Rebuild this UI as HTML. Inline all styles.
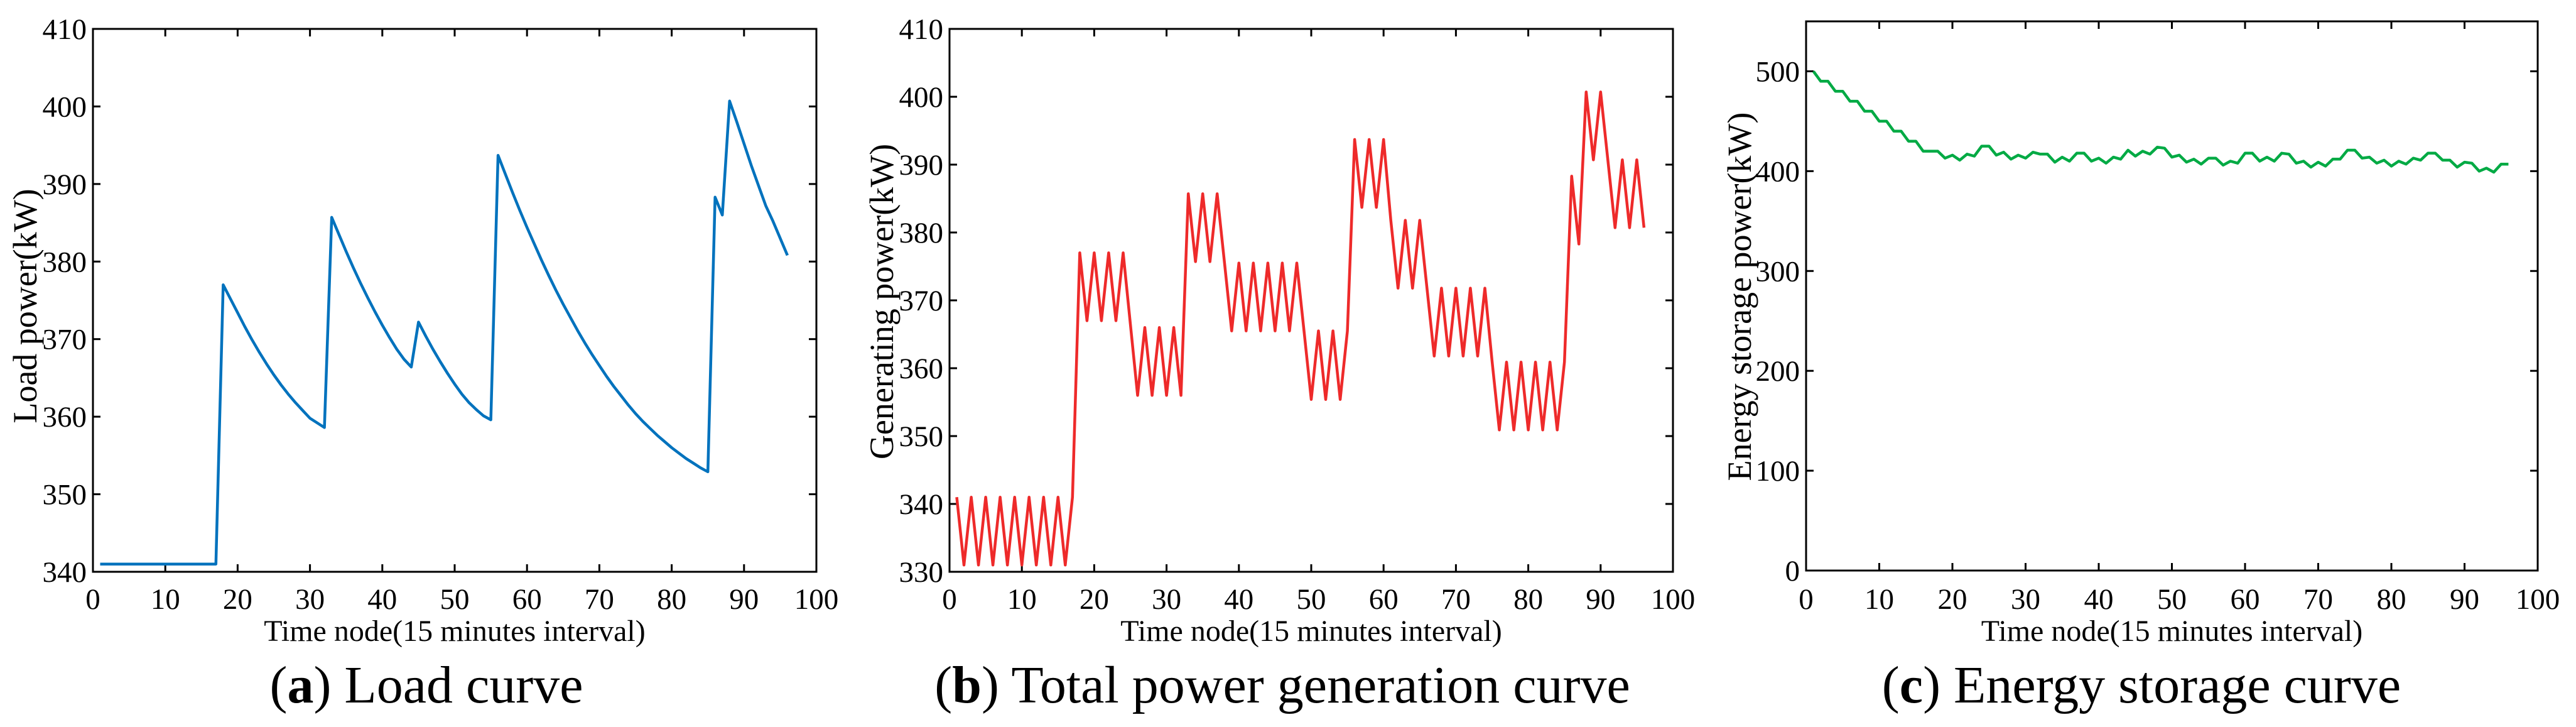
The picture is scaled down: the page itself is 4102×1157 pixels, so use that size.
<!DOCTYPE html>
<html><head><meta charset="utf-8"><style>
html,body{margin:0;padding:0;background:#fff;}
svg{display:block;font-family:"Liberation Serif",serif;}
</style></head><body>
<svg id="fig" width="4102" height="1157" viewBox="0 0 4102 1157"></svg>
<script>
const timeNodes = Array.from({length:96},(_, i)=>i+1);
const xTicks = [0,10,20,30,40,50,60,70,80,90,100];
const loadTicks = [340,350,360,370,380,390,400,410];
const genTicks = [330,340,350,360,370,380,390,400,410];
const storTicks = [0,100,200,300,400,500];
const loadValues = [341,341,341,341,341,341,341,341,341,341,341,341,341,341,341,341,341,
377,375.2,373.4,371.6,369.9,368.3,366.8,365.4,364.1,362.9,361.8,360.8,359.8,359.2,358.6,
385.7,383.5,381.3,379.2,377.2,375.3,373.5,371.8,370.2,368.7,367.4,366.4,
372.2,370.4,368.7,367.1,365.6,364.2,362.9,361.8,360.9,360.1,359.6,
393.7,391.3,388.9,386.6,384.4,382.3,380.2,378.2,376.3,374.5,372.8,371.1,369.5,368,366.6,365.2,363.9,362.7,361.5,360.4,359.4,358.5,357.6,356.8,356,355.3,354.6,354,353.4,352.9,
388.3,386,400.7,398,395.2,392.4,389.8,387.2,385.2,383,380.8];
const genValues = [341,331,341,331,341,331,341,331,341,331,341,331,341,331,341,331,341,
377,367,377,367,377,367,377,366.5,356,366,356,366,356,366,356,
385.7,375.7,385.7,375.7,385.7,375.6,365.5,375.5,365.5,375.5,365.5,375.5,365.5,375.5,365.5,375.5,365.5,
355.4,365.5,355.4,365.5,355.4,365.5,
393.7,383.7,393.7,383.7,393.7,381.8,371.8,381.8,371.8,381.8,371.8,361.8,371.8,361.8,371.8,361.8,371.8,361.8,371.8,
361,350.9,360.9,350.9,360.9,350.9,360.9,350.9,360.9,350.9,360.9,
388.3,378.3,400.7,390.7,400.7,390.7,380.7,390.7,380.7,390.7,380.7];
const storValues = [500,490,490,480,480,470,470,460,460,450,450,440,440,430,430,420,420,420,413,416,411,417,415,425,425,416,419,412,416,413,419,417,417,409,414,410,418,418,410,413,408,414,412,421,415,420,417,424,423,414,416,409,412,407,413,413,406,410,408,418,418,410,414,410,418,417,408,410,404,409,405,412,412,421,421,413,414,408,411,405,410,407,413,411,418,418,411,411,404,409,408,400,403,399,407,407];

const NS="http://www.w3.org/2000/svg";
const svg=document.getElementById('fig');
function mk(tag,attrs,parent){const e=document.createElementNS(NS,tag);for(const k in attrs)e.setAttribute(k,attrs[k]);(parent||svg).appendChild(e);return e;}

function drawChart(c){
  const g=mk('g',{});
  
  
  const xs=v=>c.L+(v-0)/(100-0)*(c.R-c.L);
  const ys=v=>c.B-(v-c.ymin)/(c.ymax-c.ymin)*(c.B-c.T);
  const fr=mk('rect',{x:c.L,y:c.T,width:c.R-c.L,height:c.B-c.T,fill:'none',stroke:'#000','stroke-width':3},g);
  
  
  xTicks.forEach(t=>{
    const x=xs(t);
    mk('line',{x1:x,y1:c.B,x2:x,y2:c.B-12,stroke:'#000','stroke-width':3},g);
    mk('line',{x1:x,y1:c.T,x2:x,y2:c.T+12,stroke:'#000','stroke-width':3},g);
    const tl=mk('text',{x:x,y:969,'font-size':47,'text-anchor':'middle'},g);
    tl.textContent=t;
    
    
  });
  c.ticks.forEach(t=>{
    const y=ys(t);
    mk('line',{x1:c.L,y1:y,x2:c.L+12,y2:y,stroke:'#000','stroke-width':3},g);
    mk('line',{x1:c.R,y1:y,x2:c.R-12,y2:y,stroke:'#000','stroke-width':3},g);
    const tl=mk('text',{x:c.L-10,y:y+16,'font-size':47,'text-anchor':'end'},g);
    tl.textContent=t;
    
    
  });
  const xt=mk('text',{x:(c.L+c.R)/2,y:1020,'font-size':48,'text-anchor':'middle'},g);
  xt.textContent='Time node(15 minutes interval)';
  
  
  const yt=mk('text',{x:0,y:0,'font-size':54,'text-anchor':'middle',transform:`translate(${c.ylx},${c.yly}) rotate(-90)`},g);
  yt.textContent=c.ytitle;
  
  
  const pts=c.data.map((v,i)=>xs(timeNodes[i]).toFixed(1)+','+ys(v).toFixed(1)).join(' ');
  const ln=mk('polyline',{points:pts,fill:'none',stroke:c.color,'stroke-width':4.5,'stroke-linejoin':'round'},g);
  
  
  const cap=mk('text',{x:c.capx,y:1118,'font-size':84,'text-anchor':'middle'},g);
  const b1=mk('tspan',{},cap); b1.textContent='(';
  const b2=mk('tspan',{'font-weight':'bold'},cap); b2.textContent=c.letter;
  const b3=mk('tspan',{},cap); b3.textContent=') '+c.caption;
  
  
}

drawChart({name:'load-curve-chart',L:148,R:1300,T:46,B:910,ymin:340,ymax:410,ticks:loadTicks,data:loadValues,color:'#0072BD',ytitle:'Load power(kW)',ylx:58,yly:487,capx:679,letter:'a',caption:'Load curve'});
drawChart({name:'generation-curve-chart',L:1512,R:2664,T:46,B:910,ymin:330,ymax:410,ticks:genTicks,data:genValues,color:'#EE2A2A',ytitle:'Generating power(kW)',ylx:1422,yly:480,capx:2042,letter:'b',caption:'Total power generation curve'});
drawChart({name:'storage-curve-chart',L:2876,R:4041,T:34,B:908,ymin:0,ymax:550,ticks:storTicks,data:storValues,color:'#00AA44',ytitle:'Energy storage power(kW)',ylx:2788,yly:472,capx:3410,letter:'c',caption:'Energy storage curve'});
</script>
</body></html>
